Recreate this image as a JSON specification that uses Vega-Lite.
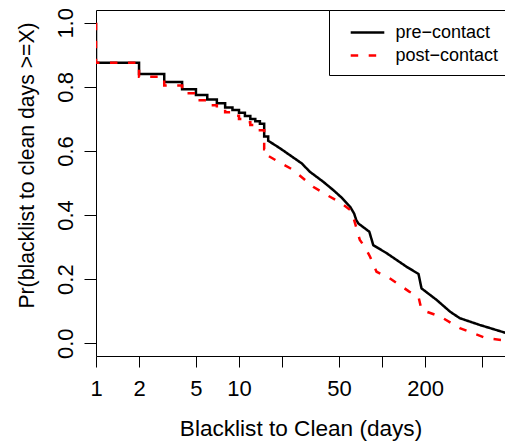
{
  "$schema": "https://vega.github.io/schema/vega-lite/v6.json",
  "autosize": {"type": "none"},
  "padding": {"left": 96, "top": 10, "right": 0, "bottom": 87},
  "width": 409,
  "height": 346,
  "background": "white",
  "config": {
    "view": {"stroke": "black", "strokeWidth": 1},
    "font": "Liberation Sans",
    "axis": {"grid": false, "domain": false, "tickColor": "black", "labelColor": "black", "titleColor": "black", "labelFont": "Liberation Sans", "titleFont": "Liberation Sans", "labelFontSize": 22, "titleFontSize": 22.6, "titleFontWeight": "normal", "labelOverlap": false, "labelFlush": false}
  },
  "datasets": {
    "curves": [
      {"s": "pre−contact", "i": 0, "x": 1, "y": 1.0},
      {"s": "pre−contact", "i": 1, "x": 1, "y": 0.875},
      {"s": "pre−contact", "i": 2, "x": 2, "y": 0.875},
      {"s": "pre−contact", "i": 3, "x": 2, "y": 0.840},
      {"s": "pre−contact", "i": 4, "x": 3, "y": 0.840},
      {"s": "pre−contact", "i": 5, "x": 3, "y": 0.815},
      {"s": "pre−contact", "i": 6, "x": 4, "y": 0.815},
      {"s": "pre−contact", "i": 7, "x": 4, "y": 0.793},
      {"s": "pre−contact", "i": 8, "x": 5, "y": 0.793},
      {"s": "pre−contact", "i": 9, "x": 5, "y": 0.775},
      {"s": "pre−contact", "i": 10, "x": 6, "y": 0.775},
      {"s": "pre−contact", "i": 11, "x": 6, "y": 0.761},
      {"s": "pre−contact", "i": 12, "x": 7, "y": 0.761},
      {"s": "pre−contact", "i": 13, "x": 7, "y": 0.749},
      {"s": "pre−contact", "i": 14, "x": 8, "y": 0.749},
      {"s": "pre−contact", "i": 15, "x": 8, "y": 0.736},
      {"s": "pre−contact", "i": 16, "x": 9, "y": 0.736},
      {"s": "pre−contact", "i": 17, "x": 9, "y": 0.728},
      {"s": "pre−contact", "i": 18, "x": 10, "y": 0.728},
      {"s": "pre−contact", "i": 19, "x": 10, "y": 0.719},
      {"s": "pre−contact", "i": 20, "x": 11, "y": 0.719},
      {"s": "pre−contact", "i": 21, "x": 11, "y": 0.709},
      {"s": "pre−contact", "i": 22, "x": 12, "y": 0.709},
      {"s": "pre−contact", "i": 23, "x": 12, "y": 0.700},
      {"s": "pre−contact", "i": 24, "x": 13, "y": 0.700},
      {"s": "pre−contact", "i": 25, "x": 13, "y": 0.693},
      {"s": "pre−contact", "i": 26, "x": 14, "y": 0.693},
      {"s": "pre−contact", "i": 27, "x": 14, "y": 0.685},
      {"s": "pre−contact", "i": 28, "x": 15, "y": 0.685},
      {"s": "pre−contact", "i": 29, "x": 15, "y": 0.645},
      {"s": "pre−contact", "i": 30, "x": 16, "y": 0.645},
      {"s": "pre−contact", "i": 31, "x": 16, "y": 0.632},
      {"s": "pre−contact", "i": 32, "x": 19.4, "y": 0.608},
      {"s": "pre−contact", "i": 33, "x": 27.5, "y": 0.561},
      {"s": "pre−contact", "i": 34, "x": 31.3, "y": 0.535},
      {"s": "pre−contact", "i": 35, "x": 38.8, "y": 0.504},
      {"s": "pre−contact", "i": 36, "x": 45.6, "y": 0.478},
      {"s": "pre−contact", "i": 37, "x": 52, "y": 0.455},
      {"s": "pre−contact", "i": 38, "x": 59.8, "y": 0.426},
      {"s": "pre−contact", "i": 39, "x": 63.8, "y": 0.405},
      {"s": "pre−contact", "i": 40, "x": 66, "y": 0.385},
      {"s": "pre−contact", "i": 41, "x": 68.2, "y": 0.374},
      {"s": "pre−contact", "i": 42, "x": 75, "y": 0.360},
      {"s": "pre−contact", "i": 43, "x": 81.5, "y": 0.348},
      {"s": "pre−contact", "i": 44, "x": 86.9, "y": 0.306},
      {"s": "pre−contact", "i": 45, "x": 107.7, "y": 0.281},
      {"s": "pre−contact", "i": 46, "x": 148, "y": 0.239},
      {"s": "pre−contact", "i": 47, "x": 180, "y": 0.216},
      {"s": "pre−contact", "i": 48, "x": 189, "y": 0.171},
      {"s": "pre−contact", "i": 49, "x": 241, "y": 0.135},
      {"s": "pre−contact", "i": 50, "x": 300, "y": 0.098},
      {"s": "pre−contact", "i": 51, "x": 350, "y": 0.078},
      {"s": "pre−contact", "i": 52, "x": 482, "y": 0.057},
      {"s": "pre−contact", "i": 53, "x": 760, "y": 0.030},
      {"s": "post−contact", "i": 0, "x": 1, "y": 1.0},
      {"s": "post−contact", "i": 1, "x": 1, "y": 0.875},
      {"s": "post−contact", "i": 2, "x": 2, "y": 0.875},
      {"s": "post−contact", "i": 3, "x": 2, "y": 0.832},
      {"s": "post−contact", "i": 4, "x": 3, "y": 0.832},
      {"s": "post−contact", "i": 5, "x": 3, "y": 0.804},
      {"s": "post−contact", "i": 6, "x": 4, "y": 0.804},
      {"s": "post−contact", "i": 7, "x": 4, "y": 0.780},
      {"s": "post−contact", "i": 8, "x": 5, "y": 0.780},
      {"s": "post−contact", "i": 9, "x": 5, "y": 0.758},
      {"s": "post−contact", "i": 10, "x": 6, "y": 0.758},
      {"s": "post−contact", "i": 11, "x": 6, "y": 0.743},
      {"s": "post−contact", "i": 12, "x": 7, "y": 0.743},
      {"s": "post−contact", "i": 13, "x": 7, "y": 0.730},
      {"s": "post−contact", "i": 14, "x": 8, "y": 0.730},
      {"s": "post−contact", "i": 15, "x": 8, "y": 0.721},
      {"s": "post−contact", "i": 16, "x": 9, "y": 0.721},
      {"s": "post−contact", "i": 17, "x": 9, "y": 0.710},
      {"s": "post−contact", "i": 18, "x": 10, "y": 0.710},
      {"s": "post−contact", "i": 19, "x": 10, "y": 0.700},
      {"s": "post−contact", "i": 20, "x": 11, "y": 0.700},
      {"s": "post−contact", "i": 21, "x": 11, "y": 0.690},
      {"s": "post−contact", "i": 22, "x": 12, "y": 0.690},
      {"s": "post−contact", "i": 23, "x": 12, "y": 0.681},
      {"s": "post−contact", "i": 24, "x": 13, "y": 0.681},
      {"s": "post−contact", "i": 25, "x": 13, "y": 0.674},
      {"s": "post−contact", "i": 26, "x": 14, "y": 0.674},
      {"s": "post−contact", "i": 27, "x": 14, "y": 0.665},
      {"s": "post−contact", "i": 28, "x": 15, "y": 0.665},
      {"s": "post−contact", "i": 29, "x": 15, "y": 0.605},
      {"s": "post−contact", "i": 30, "x": 16, "y": 0.605},
      {"s": "post−contact", "i": 31, "x": 16, "y": 0.585},
      {"s": "post−contact", "i": 32, "x": 19.4, "y": 0.563},
      {"s": "post−contact", "i": 33, "x": 23.9, "y": 0.541},
      {"s": "post−contact", "i": 34, "x": 33, "y": 0.488},
      {"s": "post−contact", "i": 35, "x": 43.3, "y": 0.457},
      {"s": "post−contact", "i": 36, "x": 52, "y": 0.437},
      {"s": "post−contact", "i": 37, "x": 59.8, "y": 0.416},
      {"s": "post−contact", "i": 38, "x": 63.8, "y": 0.385},
      {"s": "post−contact", "i": 39, "x": 70, "y": 0.322},
      {"s": "post−contact", "i": 40, "x": 76, "y": 0.300},
      {"s": "post−contact", "i": 41, "x": 82.5, "y": 0.270},
      {"s": "post−contact", "i": 42, "x": 91.6, "y": 0.223},
      {"s": "post−contact", "i": 43, "x": 113, "y": 0.203},
      {"s": "post−contact", "i": 44, "x": 155, "y": 0.161},
      {"s": "post−contact", "i": 45, "x": 180, "y": 0.145},
      {"s": "post−contact", "i": 46, "x": 189, "y": 0.104},
      {"s": "post−contact", "i": 47, "x": 256, "y": 0.083},
      {"s": "post−contact", "i": 48, "x": 350, "y": 0.047},
      {"s": "post−contact", "i": 49, "x": 540, "y": 0.015},
      {"s": "post−contact", "i": 50, "x": 760, "y": 0.008}
    ]
  },
  "data": {"name": "curves"},
  "encoding": {
    "x": {
      "field": "x", "type": "quantitative",
      "scale": {"type": "log", "domain": [1, 724.7], "nice": false},
      "axis": {
        "title": "Blacklist to Clean (days)",
        "values": [1, 2, 5, 10, 20, 50, 100, 200, 500],
        "format": "d",
        "labelExpr": "datum.value == 20 || datum.value == 100 || datum.value == 500 ? '' : datum.label",
        "tickSize": 11,
        "labelPadding": 11,
        "labelBaseline": "top",
        "titleBaseline": "alphabetic",
        "titleY": 79
      }
    },
    "y": {
      "field": "y", "type": "quantitative",
      "scale": {"domain": [-0.04, 1.04], "nice": false, "zero": false},
      "axis": {
        "title": "Pr(blacklist to clean days >=X)",
        "values": [0, 0.2, 0.4, 0.6, 0.8, 1.0],
        "format": ".1f",
        "labelAngle": -90,
        "labelAlign": "center",
        "labelBaseline": "alphabetic",
        "tickSize": 12,
        "labelPadding": 12,
        "titleFontSize": 21.2,
        "titleBaseline": "alphabetic",
        "titleX": -63,
        "titleY": 155
      }
    },
    "order": {"field": "i", "type": "quantitative"},
    "color": {
      "field": "s", "type": "nominal",
      "scale": {"domain": ["pre−contact", "post−contact"], "range": ["black", "red"]},
      "legend": {
        "title": null,
        "orient": "none",
        "legendX": 233,
        "legendY": 0,
        "strokeColor": "black",
        "fillColor": "white",
        "padding": 10.5,
        "cornerRadius": 0,
        "symbolType": "M-1.6,0H1.6",
        "symbolSize": 441,
        "symbolStrokeWidth": 2.5,
        "symbolOffset": 16,
        "labelOffset": 16,
        "labelFontSize": 18,
        "labelFont": "Liberation Sans",
        "labelColor": "black",
        "rowPadding": 2
      }
    },
    "strokeDash": {
      "field": "s", "type": "nominal",
      "scale": {"domain": ["pre−contact", "post−contact"], "range": [[1, 0], [7.5, 10.5]]},
      "legend": null
    }
  },
  "layer": [
    {
      "transform": [{"filter": "datum.s == 'pre−contact'"}],
      "mark": {"type": "line", "strokeWidth": 2.5, "clip": true}
    },
    {
      "transform": [{"filter": "datum.s == 'post−contact'"}],
      "mark": {"type": "line", "strokeWidth": 2.5, "clip": true}
    }
  ]
}
